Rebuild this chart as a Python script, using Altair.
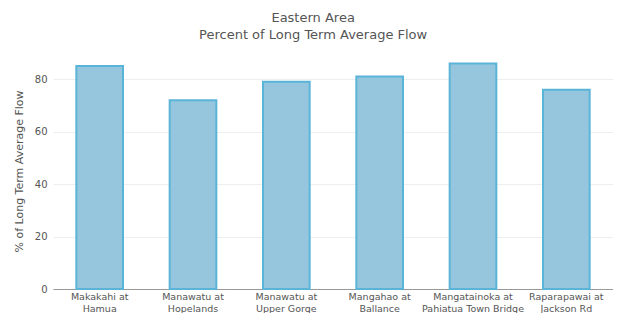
import altair as alt
import pandas as pd

sites = ["Makakahi at|Hamua", "Manawatu at|Hopelands", "Manawatu at|Upper Gorge",
         "Mangahao at|Ballance", "Mangatainoka at|Pahiatua Town Bridge", "Raparapawai at|Jackson Rd"]
values = [85, 72, 79, 81, 86, 76]

df = pd.DataFrame({"site": sites, "pct": values})

font = "DejaVu Sans"
chart = alt.Chart(df).mark_bar(
    fill="#96c6de", stroke="#5ab4d7", strokeWidth=2
).encode(
    x=alt.X("site:N", sort=sites,
            scale=alt.Scale(paddingInner=0.5, paddingOuter=0.25),
            axis=alt.Axis(title=None, labelAngle=0, ticks=False, grid=False,
                          labelExpr="split(datum.label, '|')", labelFontSize=9.5,
                          labelColor="#555", labelFont=font, labelPadding=2,
                          labelLineHeight=12,
                          domainColor="#999", domainWidth=1)),
    y=alt.Y("pct:Q", scale=alt.Scale(domain=[0, 90], nice=False),
            axis=alt.Axis(title="% of Long Term Average Flow", values=[0, 20, 40, 60, 80],
                          ticks=False, domain=False, gridColor="#eeeeee",
                          labelFontSize=10, labelColor="#555", labelFont=font, labelPadding=6,
                          titleFontSize=11, titleColor="#555", titleFont=font,
                          titleFontWeight="normal", titlePadding=10))
).properties(
    width=560, height=236,
    title=alt.TitleParams(["Eastern Area", "Percent of Long Term Average Flow"],
                          font=font, fontSize=13, fontWeight="normal", color="#555",
                          anchor="middle", frame="bounds", offset=11, lineHeight=17),
    autosize=alt.AutoSizeParams(type="none"),
    padding={"left": 45, "top": 45, "right": 0, "bottom": 28}
).configure_view(stroke=None)

chart.save("out.html", embed_options={"renderer": "svg", "actions": False})
